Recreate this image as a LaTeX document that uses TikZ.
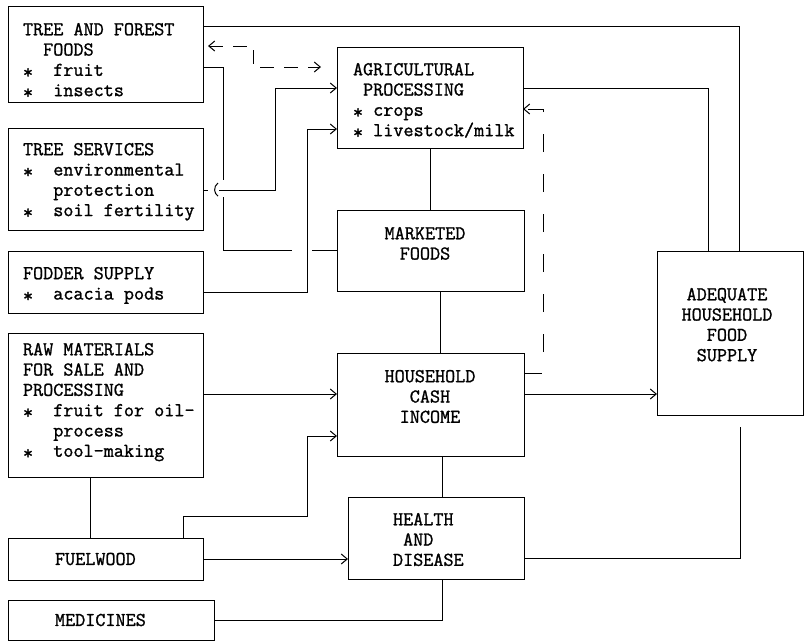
\documentclass[tikz,border=0pt]{standalone}
\usepackage{fontspec}
\newfontfamily\tw{Latin Modern Mono}[FakeBold=1.2]
\usetikzlibrary{arrows.meta}
\newcommand{\st}{\raisebox{-2.5pt}{*}}
\begin{document}
\begin{tikzpicture}[x=1pt,y=-1pt, line width=1pt,
  box/.style={draw, rectangle, inner sep=0pt, outer sep=0pt, anchor=north west},
  txt/.style={inner sep=0pt, outer sep=0pt, font=\tw\fontsize{19.6}{20.3}\selectfont},
  arr/.style={-{Straight Barb[length=6pt,width=10pt]}},
  dshA/.style={dash pattern=on 14pt off 10pt},
  dshB/.style={dash pattern=on 18pt off 22pt}]
\useasboundingbox (0,0) rectangle (807,643);

% boxes
\node[box, minimum width=195pt, minimum height=96pt]  (tff)  at (8,6) {};
\node[box, minimum width=195pt, minimum height=102pt] (ts)   at (8,128) {};
\node[box, minimum width=195pt, minimum height=62pt]  (fod)  at (8,251) {};
\node[box, minimum width=195pt, minimum height=144pt] (raw)  at (8,333) {};
\node[box, minimum width=195pt, minimum height=42pt]  (fuel) at (8,538) {};
\node[box, minimum width=206pt, minimum height=40pt]  (med)  at (8,600) {};
\node[box, minimum width=186pt, minimum height=101pt] (agp)  at (337,47) {};
\node[box, minimum width=187pt, minimum height=81pt]  (mf)   at (337,210) {};
\node[box, minimum width=187pt, minimum height=103pt] (hci)  at (337,353) {};
\node[box, minimum width=176pt, minimum height=82pt]  (hd)   at (348,497) {};
\node[box, minimum width=146pt, minimum height=164pt] (ahfs) at (657,251) {};

% texts
\node[txt, anchor=north west, align=left] (tffT) at (23,23)
  {TREE AND FOREST\\\ \ FOODS\\\st\ \ fruit\\\st\ \ insects};
\node[txt, anchor=north west, align=left] (tsT) at (23,143)
  {TREE SERVICES\\\st\ \ environmental\\\ \ \ protection\\\st\ \ soil fertility};
\node[txt, anchor=north west, align=left] (fodT) at (23,267)
  {FODDER SUPPLY\\\st\ \ acacia pods};
\node[txt, anchor=north west, align=left] (rawT) at (23,343)
  {RAW MATERIALS\\FOR SALE AND\\PROCESSING\\\st\ \ fruit for oil-\\\ \ \ process\\\st\ \ tool-making};
\node[txt, anchor=west] (fuelT) at (55,559) {FUELWOOD};
\node[txt, anchor=west] (medT) at (55,620) {MEDICINES};
\node[txt, anchor=north west, align=left] (agpT) at (353,63)
  {AGRICULTURAL\\\ PROCESSING\\\st\ crops\\\st\ livestock/milk};
\node[txt, anchor=north, align=center] (mfT) at (425,227) {MARKETED\\FOODS};
\node[txt, anchor=north, align=center] (hciT) at (430,370) {HOUSEHOLD\\CASH\\INCOME};
\node[txt, anchor=north west, align=left] (hdT) at (393,513) {HEALTH\\\ AND\\DISEASE};
\node[txt, anchor=north, align=center] (ahfsT) at (727,288) {ADEQUATE\\HOUSEHOLD\\FOOD\\SUPPLY};

% helper coordinates
\coordinate (hopA) at (223,180);
\coordinate (hopB) at (223,197);
\coordinate (gapL) at (292,250);
\coordinate (gapR) at (312,250);
\coordinate (tshop) at (219,190);
\coordinate (tsbend) at (275,190);
\coordinate (dA) at (253,67);
\coordinate (dC) at (321,67);
\coordinate (dB) at (543,109);
\coordinate (fb1) at (307,516);
\coordinate (hciD) at ([yshift=31.5pt]hci.east);
\coordinate (hciA) at ([yshift=10.5pt]hci.east);
\coordinate (rawA) at ([yshift=11pt]raw.east);

% connectors
\draw ([yshift=28pt]tff.east) -| ([xshift=9pt]ahfs.north);
\draw ([yshift=9.5pt]agp.east) -| ([xshift=-22pt]ahfs.north);
\draw[dshA, {Straight Barb[length=6pt,width=10pt]}-{Straight Barb[length=6pt,width=10pt]}]
  ([xshift=5pt,yshift=8pt]tff.east) -| (dA) -- (dC);
\draw ([yshift=-13pt]tff.east) -| (hopA);
\draw (hopB) |- (gapL);
\draw (gapR) -- (gapR -| mf.west);
\draw ([yshift=-11pt]ts.east) -- ++(5,0);
\draw ([xshift=15pt,yshift=-4pt]ts.east) arc[start angle=125, end angle=235, radius=8pt];
\draw[arr] (tshop) -- (tsbend) |- ([yshift=9.5pt]agp.west);
\draw[arr] ([yshift=-10pt]fod.east) -| ([xshift=-30pt,yshift=-31.5pt]agp.west) -- ([yshift=-31.5pt]agp.west);
\draw (agp.south) -- (agp.south |- mf.north);
\draw ([xshift=10pt]mf.south) -- ([xshift=10pt]hci.north);
\draw[dshB, arr] (hciD) -| (dB) -- (dB -| agp.east);
\draw[arr] (hciA) -- (hciA -| ahfs.west);
\draw[arr] (rawA) -- (rawA -| hci.west);
\draw ([xshift=-15.5pt]raw.south) -- ([xshift=-15.5pt]fuel.north);
\draw[arr] ([xshift=77.5pt]fuel.north) |- (fb1) |- ([yshift=-31.5pt]hci.west);
\draw[arr] (fuel.east) -- (fuel.east -| hd.west);
\draw ([xshift=11.5pt]hci.south) -- ([xshift=11.5pt]hci.south |- hd.north);
\draw ([xshift=6pt]hd.south) |- (med.east);
\draw ([yshift=-20pt]hd.east) -| ([xshift=10pt,yshift=-12pt]ahfs.south);
\end{tikzpicture}
\end{document}
